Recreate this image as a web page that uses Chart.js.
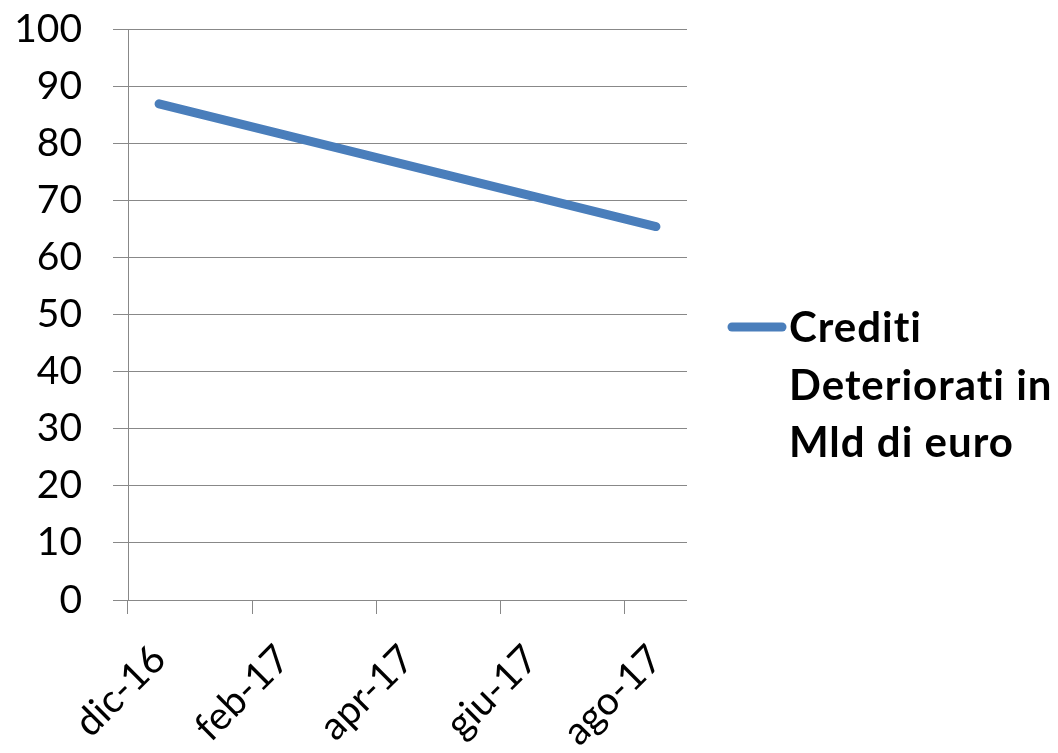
<!DOCTYPE html>
<html>
<head>
<meta charset="utf-8">
<script src="https://cdn.jsdelivr.net/npm/chart.js@4/dist/chart.umd.min.js"></script>
<style>
  html, body { margin: 0; padding: 0; background: #ffffff; }
  #wrap { position: relative; width: 1058px; height: 753px; }
</style>
</head>
<body>
<div id="wrap"><canvas id="c"></canvas></div>
<script>
// ---- data ----
const months = ['dic-16','gen-17','feb-17','mar-17','apr-17','mag-17','giu-17','lug-17','ago-17'];
const crediti = [86.9, null, null, null, null, null, null, null, 65.4];
const legendLines = ['Crediti', 'Deteriorati in', 'Mld di euro'];
const yTicksMin = 0, yTicksMax = 100, yTicksStep = 10;

// ---- style ----
const GRAY = '#888888';
const BLUE = '#4a7ebb';
const FONT = 'Lato';
const FS = 39;
const LFS = 42;

const legendPlugin = {
  id: 'sideLegend',
  afterDraw(chart) {
    const ctx = chart.ctx;
    const x0 = 728, x1 = 786, yLine = 327;
    ctx.save();
    ctx.strokeStyle = BLUE;
    ctx.lineWidth = 9;
    ctx.lineCap = 'round';
    ctx.beginPath();
    ctx.moveTo(x0 + 4, yLine);
    ctx.lineTo(x1 - 4, yLine);
    ctx.stroke();
    ctx.fillStyle = '#000000';
    ctx.font = 'bold ' + LFS + 'px ' + FONT;
    try { ctx.textRendering = 'optimizeSpeed'; } catch (e) {}
    try { ctx.letterSpacing = '1px'; } catch (e) {}
    ctx.textAlign = 'left';
    ctx.textBaseline = 'alphabetic';
    legendLines.forEach((t, i) => {
      ctx.fillText(t, 789, 342 + i * 57.5);
    });
    ctx.restore();
  }
};

function draw() {
  new Chart(document.getElementById('c'), {
    type: 'line',
    data: {
      labels: months,
      datasets: [{
        label: legendLines.join(' '),
        data: crediti,
        borderColor: BLUE,
        backgroundColor: BLUE,
        borderWidth: 9,
        borderCapStyle: 'round',
        pointRadius: 0,
        spanGaps: true,
        tension: 0
      }]
    },
    options: {
      responsive: true,
      maintainAspectRatio: false,
      animation: false,
      layout: { padding: { top: 29, right: 371, bottom: 0, left: 0 } },
      plugins: { legend: { display: false }, tooltip: { enabled: false } },
      scales: {
        x: {
          type: 'category',
          offset: true,
          grid: {
            offset: true,
            drawOnChartArea: false,
            drawTicks: true,
            tickLength: 14,
            color: (c) => (c.index !== undefined && c.index % 2 === 0) ? GRAY : 'rgba(0,0,0,0)',
            tickColor: (c) => (c.index !== undefined && c.index % 2 === 0) ? GRAY : 'rgba(0,0,0,0)'
          },
          border: { display: false },
          ticks: {
            autoSkip: false,
            minRotation: 45,
            maxRotation: 45,
            padding: 22,
            color: '#000000',
            font: { family: FONT, size: FS },
            callback: function (v, i) { return i % 2 === 0 ? months[i] : ''; }
          },
          afterFit: (s) => { s.height = 153; }
        },
        y: {
          min: yTicksMin,
          max: yTicksMax,
          grid: {
            color: GRAY,
            lineWidth: 1,
            drawTicks: true,
            tickLength: 15,
            tickColor: GRAY
          },
          border: { display: true, color: GRAY, width: 1 },
          ticks: {
            stepSize: yTicksStep,
            padding: 31,
            color: '#000000',
            font: { family: FONT, size: FS }
          },
          afterFit: (s) => { s.width = 128; s.paddingTop = 0; s.paddingBottom = 0; }
        }
      }
    },
    plugins: [legendPlugin]
  });
}

if (document.fonts && document.fonts.load) {
  Promise.all([
    document.fonts.load(FS + 'px ' + FONT),
    document.fonts.load('bold ' + LFS + 'px ' + FONT)
  ]).then(draw, draw);
} else {
  draw();
}
</script>
</body>
</html>
